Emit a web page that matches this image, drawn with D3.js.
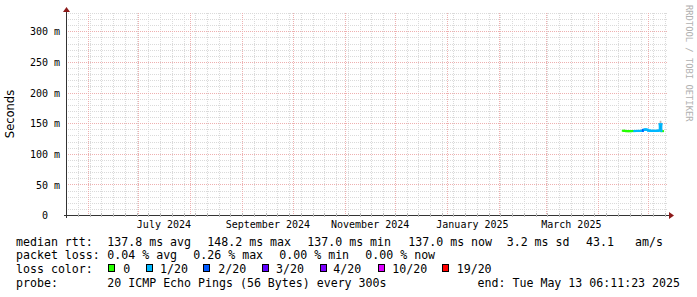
<!DOCTYPE html>
<html>
<head>
<meta charset="utf-8">
<script src="https://cdn.jsdelivr.net/npm/d3@7"></script>
<style>
  html, body { margin: 0; padding: 0; background: #ffffff; }
  svg { display: block; }
  text { font-family: "DejaVu Sans Mono", monospace; fill: #000; }
</style>
</head>
<body>
<script>
// ---------------- DATA ----------------
const timeDomain = ["2024-05-19 11:30", "2025-05-12 08:30"];
const yMaxValue = 330;
const yTickValues = [0, 50, 100, 150, 200, 250, 300];
const yUnit = "m";
const yLabel = "Seconds";

const dates = ["2025-04-17","2025-04-18","2025-04-19","2025-04-20","2025-04-21","2025-04-22",
  "2025-04-23","2025-04-24","2025-04-25","2025-04-26","2025-04-27","2025-04-28","2025-04-29",
  "2025-04-30","2025-05-01","2025-05-02","2025-05-03","2025-05-04","2025-05-05","2025-05-06",
  "2025-05-07","2025-05-08","2025-05-09","2025-05-10"];
// median RTT in ms
const medianMs = [137.6,137.2,137.0,137.1,137.0,137.2,137.1,137.3,137.2,137.4,137.3,137.5,139.0,
  139.8,139.2,138.0,137.6,137.4,137.5,137.3,137.6,137.8,148.2,137.0];
// lost pings out of 20
const lossCount = [0,0,0,0,0,0,1,1,1,1,1,1,2,1,1,1,1,1,1,1,1,1,1,0];
// smoke (min / max ping) in ms
const smokeLoMs = [136.0,136.8,136.7,136.8,136.7,136.8,136.8,136.9,136.8,137.0,136.9,137.0,138.0,
  138.8,138.3,137.3,137.1,137.0,137.0,136.9,137.1,137.2,136.8,136.6];
const smokeHiMs = [139.2,138.0,137.8,137.9,137.8,138.0,137.9,138.1,138.0,138.2,138.1,138.4,140.0,
  140.8,140.2,138.9,138.4,138.2,138.3,138.1,138.4,138.8,154.0,137.8];

const lossLevels = [0, 1, 2, 3, 4, 10, 19];
const lossLabels = ["0", "1/20", "2/20", "3/20", "4/20", "10/20", "19/20"];
const lossColors = ["#26ff00", "#00b8ff", "#0059ff", "#5e00ff", "#7e00ff", "#dd00ff", "#ff0000"];

const rttTitle = "median rtt:";
const rttStats = ["137.8 ms avg", "148.2 ms max", "137.0 ms min", "137.0 ms now", "3.2 ms sd", "43.1", "am/s"];
const lossTitle = "packet loss:";
const lossStats = ["0.04 % avg", "0.26 % max", "0.00 % min", "0.00 % now"];
const colorTitle = "loss color:";
const probeTitle = "probe:";
const probeText = "20 ICMP Echo Pings (56 Bytes) every 300s";
const endText = "end: Tue May 13 06:11:23 2025";
const watermark = "RRDTOOL / TOBI OETIKER";

// ---------------- LAYOUT ----------------
const W = 697, H = 297;
const plot = { left: 67, right: 667, top: 13, bottom: 215 };
const rttX = [107.3, 207.3, 307.3, 408.3, 506.7, 586, 635];
const lossX = [107.3, 193.3, 279.3, 365.3];
const boxX = [108.3, 146, 203.3, 261.7, 320, 377.7, 442.3];
const boxLabelX = [123.3, 160, 218.3, 276, 333.3, 392.3, 456.7];
const legendBase = [245.5, 259.2, 272.9, 286.5];
const legendLeft = 16, legendValueX = 107.3;

const parseT = d3.timeParse("%Y-%m-%d %H:%M");
const parseD = d3.timeParse("%Y-%m-%d");
const t0 = parseT(timeDomain[0]), t1 = parseT(timeDomain[1]);

const x = d3.scaleTime().domain([t0, t1]).range([plot.left, plot.right]);
const y = d3.scaleLinear().domain([0, yMaxValue]).range([plot.bottom, plot.top]);

const svg = d3.select("body").append("svg").attr("width", W).attr("height", H);
svg.append("rect").attr("width", W).attr("height", H).attr("fill", "#fff");

const crisp = v => Math.round(v) + 0.5;
const minorGrid = "#dadada", majorGrid = "#eeb0b0";

// ---- grid ----
const grid = svg.append("g").attr("shape-rendering", "crispEdges");
const yMinor = d3.range(10, yMaxValue + 1, 10).filter(v => v % 50 !== 0);
grid.selectAll(".hmin").data(yMinor).join("line")
  .attr("x1", plot.left + 1).attr("x2", plot.right + 1)
  .attr("y1", d => crisp(y(d))).attr("y2", d => crisp(y(d)))
  .attr("stroke", minorGrid).attr("stroke-dasharray", "1,1");
const weeks = d3.timeWeek.range(t0, t1);
grid.selectAll(".vmin").data(weeks).join("line")
  .attr("x1", d => crisp(x(d))).attr("x2", d => crisp(x(d)))
  .attr("y1", plot.top).attr("y2", plot.bottom)
  .attr("stroke", minorGrid).attr("stroke-dasharray", "1,1");
const yMajor = yTickValues.filter(v => v > 0);
grid.selectAll(".hmaj").data(yMajor).join("line")
  .attr("x1", plot.left + 1).attr("x2", plot.right + 1)
  .attr("y1", d => crisp(y(d))).attr("y2", d => crisp(y(d)))
  .attr("stroke", majorGrid).attr("stroke-dasharray", "1,1");
const months = d3.timeMonth.range(d3.timeMonth.ceil(t0), t1);
grid.selectAll(".vmaj").data(months).join("line")
  .attr("x1", d => crisp(x(d))).attr("x2", d => crisp(x(d)))
  .attr("y1", plot.top).attr("y2", plot.bottom)
  .attr("stroke", majorGrid).attr("stroke-dasharray", "1,1");

// ---- data ----
const pts = dates.map((d, i) => ({
  t: parseD(d), v: medianMs[i], loss: lossCount[i],
  lo: smokeLoMs[i], hi: smokeHiMs[i]
}));
const dayPx = x(d3.timeDay.offset(t0, 1)) - x(t0);
// smoke
svg.append("g").selectAll("rect").data(pts).join("rect")
  .attr("x", d => x(d.t) - dayPx).attr("width", dayPx)
  .attr("y", d => y(d.hi)).attr("height", d => Math.max(0, y(d.lo) - y(d.hi)))
  .attr("fill", "#b8b8b8");
svg.append("g").selectAll("rect").data(pts.filter(d => d.hi - d.lo > 5)).join("rect")
  .attr("x", d => x(d.t) - dayPx / 2 - 1).attr("width", 1.6)
  .attr("y", d => y(d.v - 1)).attr("height", d => y(d.lo + 0.2) - y(d.v - 1))
  .attr("fill", "#303030");
svg.append("rect").attr("x", x(pts[0].t) - dayPx).attr("width", 1.5)
  .attr("y", y(pts[0].hi - 0.5)).attr("height", y(pts[0].lo + 0.5) - y(pts[0].hi - 0.5))
  .attr("fill", "#303030");

const lossColor = l => {
  let c = lossColors[0];
  lossLevels.forEach((lv, k) => { if (l >= lv) c = lossColors[k]; });
  return c;
};
// median line drawn as rrdtool-like steps, colored by loss
const lineG = svg.append("g").attr("fill", "none").attr("stroke-width", 2).attr("stroke-linecap", "square");
const seg = d3.line().x(d => d[0]).y(d => d[1]);
pts.forEach((p, i) => {
  const xa = x(p.t) - dayPx, xb = x(p.t);
  lineG.append("path").attr("d", seg([[xa, y(p.v)], [xb, y(p.v)]])).attr("stroke", lossColor(p.loss));
  if (i > 0) {
    const q = pts[i - 1];
    const top = q.v > p.v ? q : p;
    lineG.append("path").attr("d", seg([[xa, y(q.v)], [xa, y(p.v)]])).attr("stroke", lossColor(top.loss));
  }
});

// ---- axes ----
const axisColor = "#333";
const arrowColor = "#8c1a1a";
svg.append("line").attr("x1", plot.left - 3).attr("x2", plot.right + 2)
  .attr("y1", plot.bottom + 0.5).attr("y2", plot.bottom + 0.5)
  .attr("stroke", axisColor).attr("shape-rendering", "crispEdges");
svg.append("line").attr("x1", plot.left - 0.5).attr("x2", plot.left - 0.5)
  .attr("y1", plot.bottom + 3).attr("y2", plot.top - 2)
  .attr("stroke", axisColor).attr("shape-rendering", "crispEdges");
svg.append("path").attr("d", `M${plot.left - 4},${plot.top - 1} L${plot.left + 3},${plot.top - 1} L${plot.left - 0.5},${plot.top - 6} Z`)
  .attr("fill", arrowColor);
svg.append("path").attr("d", `M${plot.right + 2},${plot.bottom - 3} L${plot.right + 2},${plot.bottom + 4} L${plot.right + 7},${plot.bottom + 0.5} Z`)
  .attr("fill", arrowColor);
svg.append("g").attr("shape-rendering", "crispEdges").selectAll("line").data(weeks).join("line")
  .attr("x1", d => crisp(x(d))).attr("x2", d => crisp(x(d)))
  .attr("y1", plot.bottom - 2).attr("y2", plot.bottom + 2).attr("stroke", "#bbb");

// y axis labels
const yAxis = d3.axisLeft(y).tickValues(yTickValues).tickSize(0).tickPadding(7)
  .tickFormat(d => d === 0 ? "0" : `${d} ${yUnit}`);
const yg = svg.append("g").attr("transform", `translate(${plot.left},0)`).call(yAxis);
yg.select(".domain").remove();
yg.selectAll("text").style("font-family", "DejaVu Sans Mono").style("font-size", "10px")
  .attr("fill", "#000").attr("dy", "0.36em");
yg.selectAll(".tick").filter(d => d === 0).select("text").attr("x", -19);

// x axis labels: every 2 months, centered mid-month
const labelDates = d3.timeMonth.every(2).range(d3.timeMonth.floor(t0), t1)
  .map(d => d3.timeDay.offset(d, 15)).filter(d => d >= t0 && d <= t1);
const xAxis = d3.axisBottom(x).tickValues(labelDates).tickSize(0).tickPadding(6)
  .tickFormat(d3.timeFormat("%B %Y"));
const xg = svg.append("g").attr("transform", `translate(0,${plot.bottom})`).call(xAxis);
xg.select(".domain").remove();
xg.selectAll("text").style("font-family", "DejaVu Sans Mono").style("font-size", "10px")
  .attr("fill", "#000").attr("dy", "0.71em");

// y title
svg.append("text").attr("transform", `translate(14,${(plot.top + plot.bottom) / 2}) rotate(-90)`)
  .attr("text-anchor", "middle").style("font-family", "DejaVu Sans").style("font-size", "11.5px")
  .text(yLabel);

// watermark
svg.append("text").attr("transform", `translate(685.5,5) rotate(90)`)
  .style("font-family", "DejaVu Sans Mono").style("font-size", "8.8px")
  .style("fill", "#b0b0b0").text(watermark);

// ---- legend ----
const leg = svg.append("g").style("font-size", "11.6px");
const put = (t, xx, yy, anchor) => leg.append("text").attr("x", xx).attr("y", yy)
  .attr("text-anchor", anchor || "start").style("white-space", "pre").text(t);
put(rttTitle, legendLeft, legendBase[0]);
rttStats.forEach((s, i) => put(s, rttX[i], legendBase[0]));
put(lossTitle, legendLeft, legendBase[1]);
lossStats.forEach((s, i) => put(s, lossX[i], legendBase[1]));
put(colorTitle, legendLeft, legendBase[2]);
lossLabels.forEach((s, i) => {
  leg.append("rect").attr("x", Math.round(boxX[i]) + 0.5).attr("y", 264.5).attr("width", 6).attr("height", 7)
    .attr("fill", lossColors[i]).attr("stroke", "#000").attr("shape-rendering", "crispEdges");
  put(s, boxLabelX[i], legendBase[2]);
});
put(probeTitle, legendLeft, legendBase[3]);
put(probeText, legendValueX, legendBase[3]);
put(endText, 680, legendBase[3], "end");
</script>
</body>
</html>
